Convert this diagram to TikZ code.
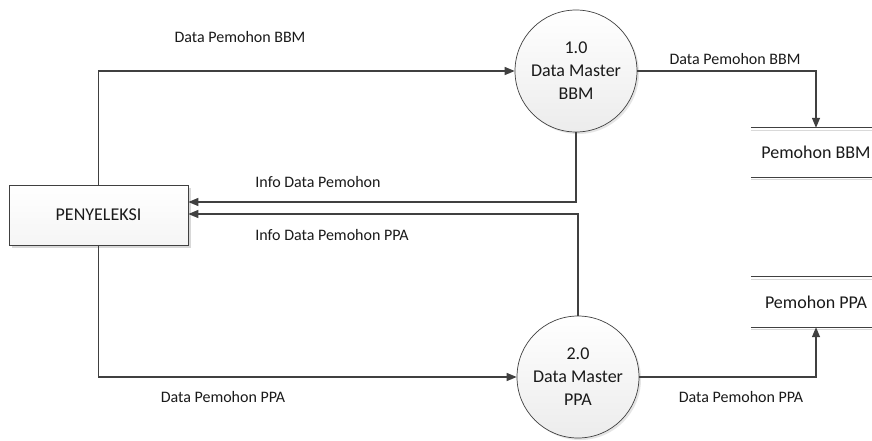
\documentclass[tikz,border=0pt]{standalone}
\usepackage{fontspec}
\setmainfont{Carlito}
\usetikzlibrary{arrows.meta,shadows}
\definecolor{ln}{HTML}{404040}
\definecolor{tx}{HTML}{1A1A1A}
\begin{document}
\begin{tikzpicture}[x=1pt,y=-1pt,
  flow/.style={draw=ln,line width=1.3pt,-{Triangle[length=10pt,width=8pt]}},
  lbl/.style={text=tx,font=\fontsize{16}{19}\selectfont,inner sep=0pt},
  procbox/.style={draw=ln,line width=0.7pt,top color=white,bottom color=gray!8,
    minimum width=179pt,minimum height=60pt,inner sep=0pt,text=tx,
    font=\fontsize{18}{22}\selectfont,
    drop shadow={shadow xshift=3pt,shadow yshift=-3pt,fill=gray!50,opacity=0.6}},
  proc/.style={circle,draw=ln,line width=0.7pt,top color=white,bottom color=gray!15,
    minimum size=122pt,inner sep=0pt,align=center,text=tx,
    font=\fontsize{18}{23}\selectfont,
    drop shadow={shadow xshift=2pt,shadow yshift=-2pt,fill=gray!40,opacity=0.5}},
  store/.style={minimum width=130pt,inner sep=0pt,text=tx,
    font=\fontsize{18}{22}\selectfont}]
\useasboundingbox[fill=white] (0,0) rectangle (872,440);

\node[procbox] (pen) at (98.5,215) {PENYELEKSI};
\node[proc] (p1) at (576,71) {1.0\\Data Master\\BBM};
\node[proc] (p2) at (578,377) {2.0\\Data Master\\PPA};

\node[store,minimum height=49pt] (s1) at (816,152.5) {Pemohon BBM};
\node[store,minimum height=50pt] (s2) at (816,302) {Pemohon PPA};
\foreach \s in {s1,s2}{
  \draw[gray!30,line width=1pt] ([yshift=-2.5pt]\s.north west) -- ([yshift=-2.5pt]\s.north east);
  \draw[gray!30,line width=1pt] ([yshift=-2.5pt]\s.south west) -- ([yshift=-2.5pt]\s.south east);
  \draw[ln,line width=1pt] (\s.north west) -- (\s.north east);
  \draw[ln,line width=1pt] (\s.south west) -- (\s.south east);
}

\draw[flow] (pen.north) |- (p1.west);
\draw[flow] (p1.south) |- ([yshift=13pt]pen.east);
\draw[flow] (p2.north) |- ([yshift=1pt]pen.east);
\draw[flow] (pen.south) |- (p2.west);
\draw[flow] (p1.east) -| (s1.north);
\draw[flow] (p2.east) -| (s2.south);

\node[lbl] (l1) at (240,37) {Data Pemohon BBM};
\node[lbl] (l2) at (735,59) {Data Pemohon BBM};
\node[lbl] (l3) at (318,182) {Info Data Pemohon};
\node[lbl] (l4) at (332,235) {Info Data Pemohon PPA};
\node[lbl] (l5) at (223,397) {Data Pemohon PPA};
\node[lbl] (l6) at (741,397) {Data Pemohon PPA};
\end{tikzpicture}
\end{document}
